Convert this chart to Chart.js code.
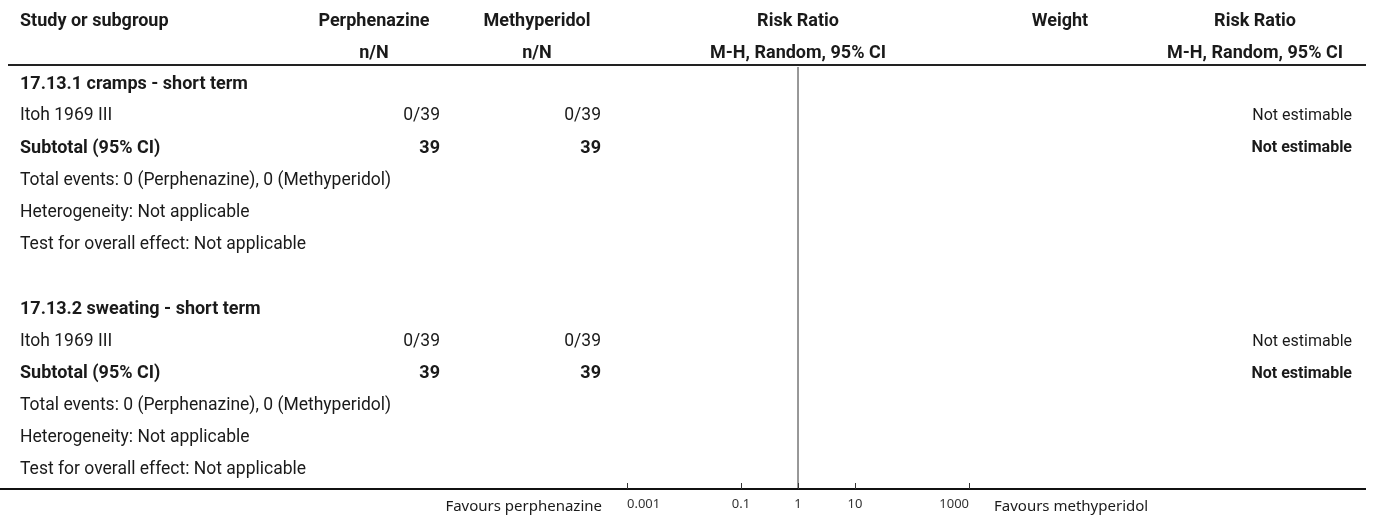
<!DOCTYPE html>
<html>
<head>
<meta charset="utf-8">
<script src="https://cdn.jsdelivr.net/npm/chart.js@4.4.1/dist/chart.umd.min.js"></script>
<style>
  html, body { margin: 0; padding: 0; background: #ffffff; }
  #wrap { width: 1373px; height: 517px; position: relative; }
</style>
</head>
<body>
<div id="wrap"><canvas id="c" width="1373" height="517"></canvas></div>
<script>
// ---- data ----
const treatmentName = "Perphenazine";
const controlName = "Methyperidol";
const subgroups = ["17.13.1 cramps - short term", "17.13.2 sweating - short term"];
const studies = ["Itoh 1969 III", "Itoh 1969 III"];
const treatEvents = [0, 0];
const treatTotal = [39, 39];
const ctrlEvents = [0, 0];
const ctrlTotal = [39, 39];
const effectText = ["Not estimable", "Not estimable"];
const totalEventsText = ["Total events: 0 (Perphenazine), 0 (Methyperidol)", "Total events: 0 (Perphenazine), 0 (Methyperidol)"];
const heterogeneityText = ["Heterogeneity: Not applicable", "Heterogeneity: Not applicable"];
const overallEffectText = ["Test for overall effect: Not applicable", "Test for overall effect: Not applicable"];
const tickValues = [0.001, 0.1, 1, 10, 1000];
const nullValue = 1;
const favoursLeft = "Favours perphenazine";
const favoursRight = "Favours methyperidol";

// ---- layout ----
const BODY = "Roboto, 'Noto Sans', sans-serif";
const TXT = "#1a1a1a";
const COL = { study: 20, treatR: 440, treatC: 374, ctrlR: 601, ctrlC: 537, rrC: 797, wC: 1060, rr2C: 1255, rr2R: 1352 };
const REG = 17.5, BOLD = 18;

const rows = [];
subgroups.forEach((g, i) => {
  const base = i * 7;
  rows.push({ idx: base, type: "group", text: g });
  rows.push({ idx: base + 1, type: "study", i });
  rows.push({ idx: base + 2, type: "subtotal", i });
  rows.push({ idx: base + 3, type: "plain", text: totalEventsText[i] });
  rows.push({ idx: base + 4, type: "plain", text: heterogeneityText[i] });
  rows.push({ idx: base + 5, type: "plain", text: overallEffectText[i] });
});

const tablePlugin = {
  id: "tablePlugin",
  afterDraw(chart) {
    const ctx = chart.ctx;
    const ys = chart.scales.y, xs = chart.scales.x;
    const ca = chart.chartArea;
    ctx.save();
    ctx.textBaseline = "middle";
    const txt = (s, x, y, align, bold, size, font) => {
      ctx.font = (bold ? "bold " : "") + (size || (bold ? BOLD : REG)) + "px " + (font || BODY);
      ctx.textAlign = align;
      ctx.fillStyle = TXT;
      ctx.fillText(s, x, y);
    };
    const h1 = ys.getPixelForValue(-1.93), h2 = ys.getPixelForValue(-0.93);
    txt("Study or subgroup", COL.study, h1, "left", true);
    txt(treatmentName, COL.treatC, h1, "center", true);
    txt("n/N", COL.treatC, h2, "center", true);
    txt(controlName, COL.ctrlC, h1, "center", true);
    txt("n/N", COL.ctrlC, h2, "center", true);
    const cx = xs.getPixelForValue(nullValue);
    txt("Risk Ratio", cx, h1, "center", true);
    txt("M-H, Random, 95% CI", cx, h2, "center", true);
    txt("Weight", COL.wC, h1, "center", true);
    txt("Risk Ratio", COL.rr2C, h1, "center", true);
    txt("M-H, Random, 95% CI", COL.rr2C, h2, "center", true);
    ctx.strokeStyle = "#222";
    ctx.lineWidth = 2;
    ctx.beginPath();
    ctx.moveTo(8, 65); ctx.lineTo(1366, 65);
    ctx.stroke();

    rows.forEach(r => {
      const y = ys.getPixelForValue(r.idx + (r.idx >= 7 ? 0.06 : 0.03));
      if (r.type === "group") txt(r.text, COL.study, y, "left", true);
      else if (r.type === "plain") txt(r.text, COL.study, y, "left", false);
      else if (r.type === "study") {
        txt(studies[r.i], COL.study, y, "left", false);
        txt(treatEvents[r.i] + "/" + treatTotal[r.i], COL.treatR, y, "right", false);
        txt(ctrlEvents[r.i] + "/" + ctrlTotal[r.i], COL.ctrlR, y, "right", false);
        txt(effectText[r.i], COL.rr2R, y, "right", false, 16);
      } else if (r.type === "subtotal") {
        txt("Subtotal (95% CI)", COL.study, y, "left", true);
        txt(String(treatTotal[r.i]), COL.treatR, y, "right", true);
        txt(String(ctrlTotal[r.i]), COL.ctrlR, y, "right", true);
        txt(effectText[r.i], COL.rr2R, y, "right", true, 16);
      }
    });

    ctx.strokeStyle = "#111";
    ctx.lineWidth = 2;
    ctx.beginPath();
    ctx.moveTo(0, ca.bottom); ctx.lineTo(1366, ca.bottom);
    ctx.stroke();
    ctx.lineWidth = 1;
    ctx.strokeStyle = "#333";
    tickValues.forEach(v => {
      const x = Math.round(xs.getPixelForValue(v)) + 0.5;
      ctx.beginPath();
      ctx.moveTo(x, ca.bottom - 6); ctx.lineTo(x, ca.bottom);
      ctx.stroke();
    });
    const fy = ca.bottom + 18;
    txt(favoursLeft, xs.left - 25, fy, "right", false, 15, "'Noto Sans', sans-serif");
    txt(favoursRight, xs.right + 25, fy, "left", false, 15, "'Noto Sans', sans-serif");
    ctx.restore();
  }
};

new Chart(document.getElementById("c"), {
  type: "line",
  data: {
    datasets: [{
      label: "null",
      data: [{ x: nullValue, y: -0.5 }, { x: nullValue, y: 12.65 }],
      borderColor: "#8a8a8a",
      borderWidth: 1,
      pointRadius: 0,
      fill: false
    }]
  },
  options: {
    responsive: false,
    animation: false,
    devicePixelRatio: 1,
    layout: { padding: { left: 627, right: 404, top: 67, bottom: 0 } },
    plugins: { legend: { display: false }, tooltip: { enabled: false } },
    scales: {
      x: {
        type: "logarithmic",
        min: 0.001, max: 1000,
        afterBuildTicks: (s) => { s.ticks = tickValues.map(v => ({ value: v })); },
        afterFit: (s) => { s.height = 28; },
        ticks: {
          autoSkip: false, maxRotation: 0, padding: 7, align: "inner",
          color: "#333",
          font: { family: "'Noto Sans', sans-serif", size: 13 },
          callback: (v) => String(v)
        },
        grid: { display: false, drawTicks: false },
        border: { display: false }
      },
      y: {
        type: "linear",
        reverse: true,
        min: -0.5, max: 12.65,
        display: false
      }
    }
  },
  plugins: [tablePlugin]
});
</script>
</body>
</html>
